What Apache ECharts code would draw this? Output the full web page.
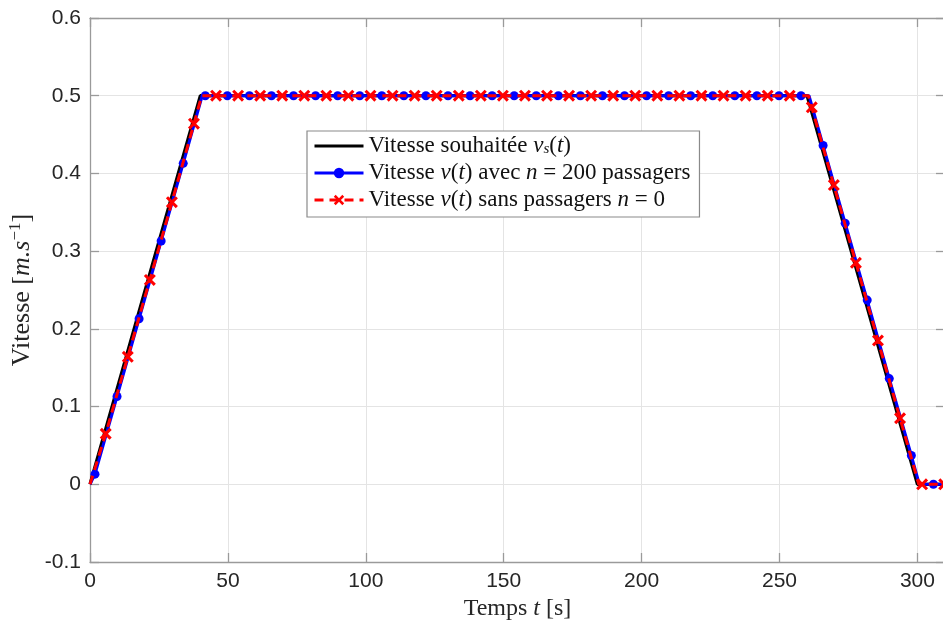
<!DOCTYPE html>
<html>
<head>
<meta charset="utf-8">
<script src="https://cdn.jsdelivr.net/npm/echarts@6.0.0/dist/echarts.min.js"></script>
<style>
  html, body { margin: 0; padding: 0; background: #fff; }
  #chart { width: 943px; height: 627px; }
</style>
</head>
<body>
<div id="chart"></div>
<script>
// Desired speed profile v_s(t): corner points of the trapezoid
const desiredTime  = [0, 40, 260, 300, 310];
const desiredSpeed = [0, 0.5, 0.5, 0, 0];

// Simulated speed with n = 200 passengers: corner points of the trace
const loadedTraceTime  = [0, 0.7, 40.7, 260.7, 300.7, 310];
const loadedTraceSpeed = [0, 0, 0.5, 0.5, 0, 0];
// ... and the sampled points shown with markers
const loadedMarkTime = [
  1.8, 9.8, 17.8, 25.8, 33.8, 41.8, 49.8, 57.8, 65.8, 73.8,
  81.8, 89.8, 97.8, 105.8, 113.8, 121.8, 129.8, 137.8, 145.8, 153.8,
  161.8, 169.8, 177.8, 185.8, 193.8, 201.8, 209.8, 217.8, 225.8, 233.8,
  241.8, 249.8, 257.8, 265.8, 273.8, 281.8, 289.8, 297.8, 305.8
];
const loadedMarkSpeed = [
  0.013, 0.113, 0.213, 0.313, 0.413, 0.5, 0.5, 0.5, 0.5, 0.5,
  0.5, 0.5, 0.5, 0.5, 0.5, 0.5, 0.5, 0.5, 0.5, 0.5,
  0.5, 0.5, 0.5, 0.5, 0.5, 0.5, 0.5, 0.5, 0.5, 0.5,
  0.5, 0.5, 0.5, 0.436, 0.336, 0.237, 0.136, 0.037, 0
];

// Simulated speed without passengers (n = 0): trace corners and markers
const emptyTraceTime  = [0, 0.5, 40.5, 260.5, 300.5, 310];
const emptyTraceSpeed = [0, 0, 0.5, 0.5, 0, 0];
const emptyMarkTime = [
  5.7, 13.7, 21.7, 29.7, 37.7, 45.7, 53.7, 61.7, 69.7, 77.7,
  85.7, 93.7, 101.7, 109.7, 117.7, 125.7, 133.7, 141.7, 149.7, 157.7,
  165.7, 173.7, 181.7, 189.7, 197.7, 205.7, 213.7, 221.7, 229.7, 237.7,
  245.7, 253.7, 261.7, 269.7, 277.7, 285.7, 293.7, 301.7, 309.7
];
const emptyMarkSpeed = [
  0.065, 0.164, 0.263, 0.363, 0.464, 0.5, 0.5, 0.5, 0.5, 0.5,
  0.5, 0.5, 0.5, 0.5, 0.5, 0.5, 0.5, 0.5, 0.5, 0.5,
  0.5, 0.5, 0.5, 0.5, 0.5, 0.5, 0.5, 0.5, 0.5, 0.5,
  0.5, 0.5, 0.485, 0.385, 0.285, 0.185, 0.085, 0, 0
];

// Axis ticks
const xTicks = [0, 50, 100, 150, 200, 250, 300];
const yTicks = [-0.1, 0, 0.1, 0.2, 0.3, 0.4, 0.5, 0.6];

// Merge trace corners (no marker) with marker samples, ordered in time
function buildSeriesData(traceT, traceV, markT, markV) {
  const pts = [];
  traceT.forEach((t, i) => pts.push({ value: [t, traceV[i]], symbol: 'none' }));
  markT.forEach((t, i) => pts.push({ value: [t, markV[i]] }));
  pts.sort((a, b) => a.value[0] - b.value[0]);
  return pts;
}

const SERIF = '"Liberation Serif", "DejaVu Serif", serif';
const SANS = '"Liberation Sans", Arial, sans-serif';
const AXIS_GRAY = '#9a9a9a';
const GRID_GRAY = '#e4e4e4';
const TEXT_DARK = '#262626';
const CROSS = 'path://M0,1.8 L1.8,0 L5,3.2 L8.2,0 L10,1.8 L6.8,5 L10,8.2 L8.2,10 L5,6.8 L1.8,10 L0,8.2 L3.2,5 Z';
const PLAIN_LINE = 'path://M0,0 L49,0 L49,3 L0,3 Z';

const legendText = {
  vs:   'Vitesse souhaitée {it|v}{sub|s}({it|t})',
  v200: 'Vitesse {it|v}({it|t}) avec {it|n} = 200 passagers',
  v0:   'Vitesse {it|v}({it|t}) sans passagers {it|n} = 0'
};

const chart = echarts.init(document.getElementById('chart'), null, { renderer: 'canvas' });

// Top and right edges of the box: line and inward ticks only
const boxAxis = {
  show: true,
  axisLine: { show: true, onZero: false, lineStyle: { color: AXIS_GRAY, width: 1.3 } },
  axisTick: { show: true, inside: true, length: 9, lineStyle: { color: AXIS_GRAY, width: 1.3 } },
  axisLabel: { show: false },
  splitLine: { show: false }
};

chart.setOption({
  animation: false,
  backgroundColor: '#ffffff',
  grid: { left: 90, top: 18, right: -2, bottom: 65, containLabel: false, outerBoundsMode: 'none' },
  legend: {
    orient: 'vertical',
    left: 307,
    top: 131,
    padding: [2, 9, 4, 6],
    itemGap: 1,
    itemWidth: 49,
    itemHeight: 13,
    backgroundColor: '#ffffff',
    borderColor: '#8a8a8a',
    borderWidth: 1.2,
    borderRadius: 0,
    lineStyle: { width: 3 },
    data: [
      { name: 'vs', icon: PLAIN_LINE },
      { name: 'v200' },
      { name: 'v0' }
    ],
    formatter: name => legendText[name],
    textStyle: {
      fontFamily: SERIF,
      fontSize: 23,
      color: '#111',
      lineHeight: 26,
      rich: {
        it:  { fontFamily: SERIF, fontSize: 23, fontStyle: 'italic', color: '#111', lineHeight: 26 },
        sub: { fontFamily: SERIF, fontSize: 15, fontStyle: 'italic', color: '#111', lineHeight: 15, verticalAlign: 'bottom', padding: [0, 0, 2, 0] }
      }
    }
  },
  xAxis: [
    {
      type: 'value',
      min: 0,
      max: 310,
      interval: 50,
      position: 'bottom',
      name: 'Temps {it|t} [s]',
      nameLocation: 'middle',
      nameGap: 34,
      nameTextStyle: {
        fontFamily: SERIF, fontSize: 24, color: TEXT_DARK,
        rich: { it: { fontFamily: SERIF, fontSize: 24, fontStyle: 'italic', color: TEXT_DARK } }
      },
      axisLine: { show: true, onZero: false, lineStyle: { color: AXIS_GRAY, width: 1.3 } },
      axisTick: { show: true, inside: true, length: 9, lineStyle: { color: AXIS_GRAY, width: 1.3 } },
      axisLabel: {
        fontFamily: SANS, fontSize: 21, color: TEXT_DARK, margin: 9,
        showMaxLabel: false,
        formatter: v => (xTicks.includes(v) ? String(v) : '')
      },
      splitLine: { show: true, lineStyle: { color: GRID_GRAY, width: 1 } }
    },
    Object.assign({ type: 'value', min: 0, max: 310, interval: 50, position: 'top' }, boxAxis)
  ],
  yAxis: [
    {
      type: 'value',
      min: -0.1,
      max: 0.6,
      interval: 0.1,
      position: 'left',
      name: 'Vitesse [{it|m.s}{sup|−1}]',
      nameLocation: 'middle',
      nameGap: 53,
      nameMoveOverlap: false,
      nameTextStyle: {
        fontFamily: SERIF, fontSize: 26, color: TEXT_DARK, lineHeight: 30,
        rich: {
          it:  { fontFamily: SERIF, fontSize: 26, fontStyle: 'italic', color: TEXT_DARK, lineHeight: 30 },
          sup: { fontFamily: SERIF, fontSize: 17, color: TEXT_DARK, lineHeight: 17, verticalAlign: 'top' }
        }
      },
      axisLine: { show: true, onZero: false, lineStyle: { color: AXIS_GRAY, width: 1.3 } },
      axisTick: { show: true, inside: true, length: 9, lineStyle: { color: AXIS_GRAY, width: 1.3 } },
      axisLabel: {
        fontFamily: SANS, fontSize: 21, color: TEXT_DARK, margin: 9,
        formatter: v => {
          const r = Math.round(v * 10) / 10;
          return yTicks.includes(r) ? String(r) : '';
        }
      },
      splitLine: { show: true, lineStyle: { color: GRID_GRAY, width: 1 } }
    },
    Object.assign({ type: 'value', min: -0.1, max: 0.6, interval: 0.1, position: 'right' }, boxAxis)
  ],
  series: [
    {
      name: 'vs',
      type: 'line',
      xAxisIndex: 0,
      yAxisIndex: 0,
      data: desiredTime.map((t, i) => [t, desiredSpeed[i]]),
      symbol: 'none',
      lineStyle: { color: '#000000', width: 3.2 },
      itemStyle: { color: '#000000' },
      z: 2
    },
    {
      name: 'v200',
      type: 'line',
      xAxisIndex: 0,
      yAxisIndex: 0,
      data: buildSeriesData(loadedTraceTime, loadedTraceSpeed, loadedMarkTime, loadedMarkSpeed),
      symbol: 'circle',
      symbolSize: 9,
      showAllSymbol: true,
      lineStyle: { color: '#0000ff', width: 3 },
      itemStyle: { color: '#0000ff' },
      z: 3
    },
    {
      name: 'v0',
      type: 'line',
      xAxisIndex: 0,
      yAxisIndex: 0,
      data: buildSeriesData(emptyTraceTime, emptyTraceSpeed, emptyMarkTime, emptyMarkSpeed),
      symbol: CROSS,
      symbolSize: 12,
      showAllSymbol: true,
      lineStyle: { color: '#ff0000', width: 3, type: [9, 6] },
      itemStyle: { color: '#ff0000' },
      z: 4
    }
  ]
});
</script>
</body>
</html>
